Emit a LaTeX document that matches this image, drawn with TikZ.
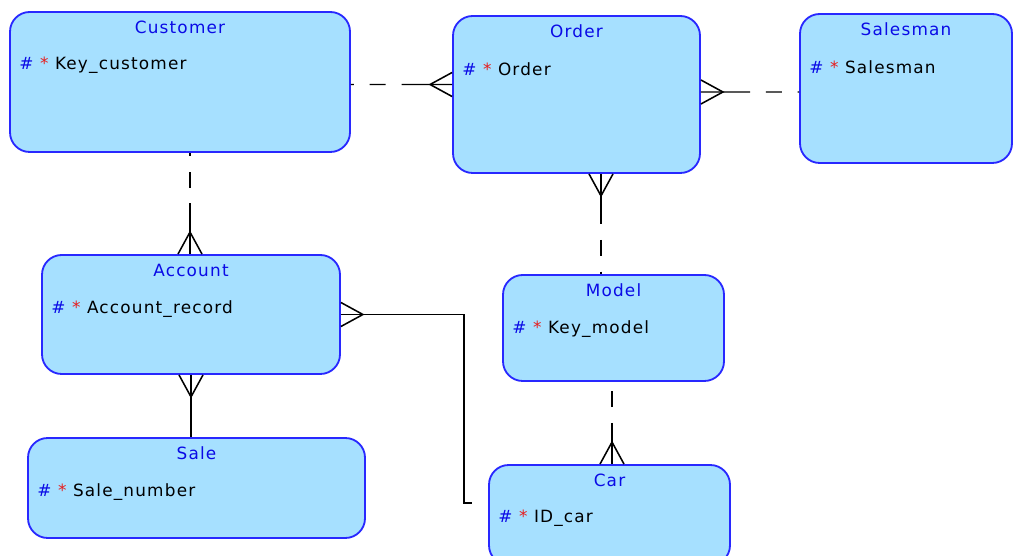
\documentclass[tikz,border=0pt]{standalone}
\usepackage{fontspec}
\setmainfont{DejaVu Sans}
\newfontfamily\erfont{DejaVu Sans}[LetterSpace=7]
\usetikzlibrary{calc,fit}

\definecolor{entfill}{RGB}{166,224,255}
\definecolor{entline}{RGB}{40,40,255}
\definecolor{titleblue}{RGB}{10,10,230}
\definecolor{keyred}{RGB}{230,30,30}

\newcommand{\keyattr}[1]{{\color{titleblue}\#}~{\color{keyred}*}~#1}
% #1 one end, #2 many end, #3 rotation of the crow's foot, #4 name
\newcommand{\erlink}[4]{%
    \coordinate (#4-m) at ($(#1)!0.5!(#2)$);
    \draw[optline] (#4-m) -- (#1);
    \draw[mandline] (#4-m) -- (#2);
    \pic[rotate=#3] at (#2) {crow};}

\tikzset{
    entity/.style={draw=entline,fill=entfill,line width=1.3pt,rounded corners=14pt,inner sep=0pt},
    enttitle/.style={text=titleblue,font=\erfont\fontsize{12}{14}\selectfont,inner sep=0pt},
    entattr/.style={anchor=west,font=\erfont\fontsize{12}{14}\selectfont,inner sep=0pt},
    mandline/.style={line width=1pt},
    optline/.style={line width=1pt,dash pattern=on 11.3pt off 11.3pt,dash phase=11.3pt},
    crow/.pic={\draw[line width=1.1pt] (0,-12) -- (-22,0) -- (0,12);}
}

\begin{document}
\begin{tikzpicture}[x=0.025cm,y=-0.025cm]
                \useasboundingbox (0,0) rectangle (1013,556);
                % entities
                \foreach \n/\a/\b/\t/\k in {customer/{10,12}/{350,152}/Customer/Key\_customer,
                        order/{453,16}/{700,173}/Order/Order,
                        salesman/{800,14}/{1012,163}/Salesman/Salesman,
                        account/{42,255}/{340,374}/Account/Account\_record,
                        sale/{28,438}/{365,538}/Sale/Sale\_number,
                        model/{503,275}/{724,381}/Model/Key\_model,
                        car/{489,465}/{730,565}/Car/ID\_car} {
                    \node[entity,fit={(\a) (\b)}] (\n) {};
                    \node[enttitle] (\n-title) at ($(\n.north)+(0,16.5)$) {\t};
                    \node[entattr] (\n-key) at ($(\n.north west)+(10,54.5)$) {\keyattr{\k}};
                }
                % relationships
                \coordinate (co-b) at ($(order.west)+(0,-10)$);
                \coordinate (co-a) at (customer.east |- co-b);
                \erlink{co-a}{co-b}{0}{co}
                \coordinate (os-b) at ($(order.east)+(0,-2.5)$);
                \coordinate (os-a) at (salesman.west |- os-b);
                \erlink{os-a}{os-b}{180}{os}
                \coordinate (ca-b) at ($(account.north)+(-1,0)$);
                \coordinate (ca-a) at (customer.south -| ca-b);
                \erlink{ca-a}{ca-b}{-90}{ca}
                \coordinate (om-b) at ($(order.south)+(24.5,0)$);
                \coordinate (om-a) at (model.north -| om-b);
                \erlink{om-a}{om-b}{90}{om}
                \coordinate (mc-a) at ($(model.south)+(-1.5,0)$);
                \coordinate (mc-b) at (car.north -| mc-a);
                \erlink{mc-a}{mc-b}{-90}{mc}
                \draw[mandline] (account.south) -- (account.south |- sale.north);
                \pic[rotate=90] at (account.south) {crow};
                \draw[mandline] (account.east) -- ++(123,0) |- ($(car.west)+(-16,-12)$);
                \pic[rotate=180] at (account.east) {crow};
            \end{tikzpicture}
\end{document}
